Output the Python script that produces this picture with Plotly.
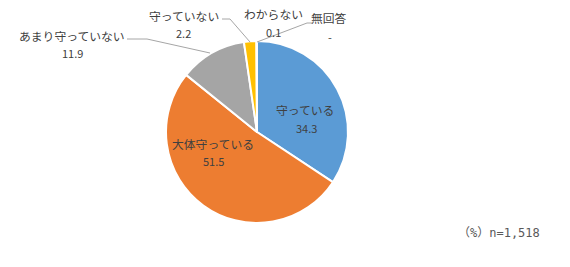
import plotly.graph_objects as go

W, H = 570, 267

labels = ["守っている", "大体守っている", "あまり守っていない", "守っていない", "わからない", "無回答"]
values = [34.3, 51.5, 11.9, 2.2, 0.1, 0.0]
value_text = ["34.3", "51.5", "11.9", "2.2", "0.1", "-"]
colors = ["#5B9BD5", "#ED7D31", "#A5A5A5", "#FFC000", "#4472C4", "#70AD47"]
note = "（%）n=1,518"

# label positions in pixels (name line centre, value line centre)
label_pos = [
    ((305, 109), (306, 128)),
    ((213, 143), (213, 161)),
    ((72, 35), (72, 53)),
    ((184, 15), (183, 33)),
    ((273, 13), (273, 32)),
    ((329, 18), (330, 37)),
]

cx, cy, r = 257, 132, 91

def px(x, y):
    return x / W, 1 - y / H

fig = go.Figure(go.Pie(
    labels=labels, values=values, sort=False, direction="clockwise", rotation=0,
    marker=dict(colors=colors, line=dict(color="white", width=2)),
    textinfo="none", hoverinfo="label+value", showlegend=False,
    domain=dict(x=[(cx - r) / W, (cx + r) / W], y=[1 - (cy + r) / H, 1 - (cy - r) / H]),
))

font = dict(family="Noto Sans CJK JP", size=11.8, color="#404040")
ann = []
for lab, vt, (p1, p2) in zip(labels, value_text, label_pos):
    x1, y1 = px(*p1)
    x2, y2 = px(*p2)
    ann.append(dict(x=x1, y=y1, xref="paper", yref="paper", text=lab, showarrow=False,
                    font=font, xanchor="center", yanchor="middle"))
    ann.append(dict(x=x2, y=y2, xref="paper", yref="paper", text=vt, showarrow=False,
                    font=dict(family="Noto Sans CJK JP", size=11, color="#404040"),
                    xanchor="center", yanchor="middle"))
nx, ny = px(542, 233)
ann.append(dict(x=nx, y=ny, xref="paper", yref="paper", text=note, showarrow=False,
                font=dict(family="DejaVu Sans Mono, Noto Sans CJK JP", size=12, color="#595959"),
                xanchor="right", yanchor="middle"))

leaders = [
    [(127, 39), (147, 39), (210, 53)],
    [(222, 19), (230, 19), (250, 42)],
    [(257, 42), (307, 23), (312, 23)],
]
shapes = []
for pts in leaders:
    path = ""
    for i, (x, y) in enumerate(pts):
        X, Y = px(x, y)
        path += ("M" if i == 0 else "L") + f"{X},{Y} "
    shapes.append(dict(type="path", path=path, xref="paper", yref="paper",
                       line=dict(color="#A6A6A6", width=1)))

fig.update_layout(width=W, height=H, margin=dict(l=0, r=0, t=0, b=0),
                  paper_bgcolor="white", plot_bgcolor="white",
                  annotations=ann, shapes=shapes)
fig.write_html("out.html")
